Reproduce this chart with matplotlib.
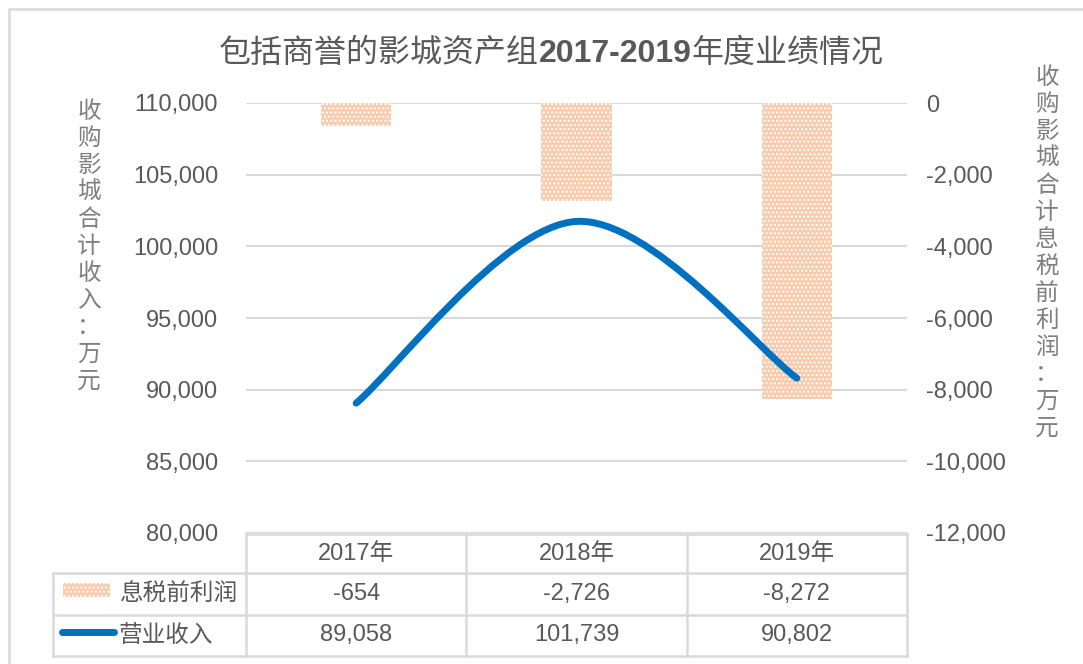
import numpy as np
import matplotlib
matplotlib.use("Agg")
import matplotlib.pyplot as plt
import matplotlib.transforms as mtransforms
from matplotlib.lines import Line2D
from matplotlib.patches import Rectangle
from matplotlib.path import Path
from matplotlib.patches import PathPatch
from matplotlib.offsetbox import TextArea, HPacker, AnnotationBbox
from matplotlib.ticker import FuncFormatter

plt.rcParams['font.family'] = ['Liberation Sans', 'Noto Sans CJK SC', 'DejaVu Sans']
plt.rcParams['hatch.linewidth'] = 1.0

# data
years = ['2017年', '2018年', '2019年']
ebit = [-654, -2726, -8272]           # 息税前利润 (right axis)
revenue = [89058, 101739, 90802]      # 营业收入 (left axis)
ebit_name = '息税前利润'
rev_name = '营业收入'
title_parts = ['包括商誉的影城资产组', '2017-2019', '年度业绩情况']
left_label = '收购影城合计收入：万元'
right_label = '收购影城合计息税前利润：万元'

GRAY = '#595959'
GRID = '#D9D9D9'
BAR = '#F8CBAD'
BLUE = '#0070C0'
W, H = 1083, 664

fig = plt.figure(figsize=(W / 100, H / 100), dpi=100)
fig.patch.set_facecolor('white')

def fx(px):
    return px / W

def fy(py):
    return 1 - py / H

ax = fig.add_axes([fx(246), fy(533), fx(907) - fx(246), fy(103) - fy(533)])
ax2 = ax.twinx()
ax.set_zorder(2)
ax2.set_zorder(1)
ax.patch.set_visible(False)

x = np.arange(len(years))

# bars on the right axis, hanging from 0
ax2.bar(x, ebit, width=0.32, color=BAR, edgecolor='white', linewidth=0, hatch='....')
ax2.set_ylim(-12000, 0)
ax2.set_yticks(np.arange(-12000, 1, 2000))
ax2.grid(axis='y', color=GRID, linewidth=1.5)
ax2.set_axisbelow(True)

# smoothed line (Catmull-Rom style bezier through the points, like Excel)
pts = np.column_stack([x, revenue]).astype(float)
verts = [pts[0]]
codes = [Path.MOVETO]
n = len(pts)
for i in range(n - 1):
    p_prev = pts[max(i - 1, 0)]
    p0, p1 = pts[i], pts[i + 1]
    p_next = pts[min(i + 2, n - 1)]
    c1 = p0 + (p1 - p_prev) / 6
    c2 = p1 - (p_next - p0) / 6
    verts += [c1, c2, p1]
    codes += [Path.CURVE4] * 3
ax.add_patch(PathPatch(Path(verts, codes), facecolor='none', edgecolor=BLUE,
                       linewidth=5, capstyle='round', zorder=3))
ax.set_ylim(80000, 110000)
ax.set_yticks(np.arange(80000, 110001, 5000))
ax.set_xlim(-0.5, len(years) - 0.5)
ax.set_xticks([])

for a in (ax, ax2):
    for s in a.spines.values():
        s.set_visible(False)
    a.tick_params(length=0, labelsize=17, labelcolor=GRAY)

fmt = FuncFormatter(lambda v, p: f"{int(v):,}")
ax.yaxis.set_major_formatter(fmt)
ax2.yaxis.set_major_formatter(fmt)
ax.tick_params(axis='y', pad=20)
ax2.tick_params(axis='y', pad=14)
for t in ax2.get_yticklabels():
    t.set_horizontalalignment('left')

# data table under the plot
tr = mtransforms.blended_transform_factory(ax.transAxes, fig.transFigure)
xl = (53 - 246) / (907 - 246)
rows_y = [fy(534), fy(573), fy(615), fy(656)]
col_x = [0, 1 / 3, 2 / 3, 1]
lkw = dict(color=GRID, linewidth=1.8, transform=tr, solid_capstyle='projecting')
fig.add_artist(Line2D([0, 1], [rows_y[0]] * 2, **lkw))
for yy in rows_y[1:]:
    fig.add_artist(Line2D([xl, 1], [yy] * 2, **lkw))
fig.add_artist(Line2D([xl, xl], [rows_y[1], rows_y[3]], **lkw))
for xx in col_x:
    fig.add_artist(Line2D([xx, xx], [rows_y[0], rows_y[3]], **lkw))

tkw = dict(fontsize=17, color=GRAY, ha='center', va='center', transform=tr)
for i, yr in enumerate(years):
    cx = (i + 0.5) / len(years)
    fig.text(cx, (rows_y[0] + rows_y[1]) / 2, yr, **tkw)
    fig.text(cx, (rows_y[1] + rows_y[2]) / 2, f"{ebit[i]:,}", **tkw)
    fig.text(cx, (rows_y[2] + rows_y[3]) / 2, f"{revenue[i]:,}", **tkw)

# legend keys inside the table
fig.add_artist(Rectangle((fx(63), fy(597)), fx(110) - fx(63), fy(583) - fy(597),
                         facecolor=BAR, edgecolor='white', linewidth=0, hatch='....',
                         transform=fig.transFigure))
fig.add_artist(Line2D([fx(62), fx(114)], [fy(632)] * 2, color=BLUE, linewidth=5,
                      solid_capstyle='round', transform=fig.transFigure))
fig.text(fx(120), (rows_y[1] + rows_y[2]) / 2, ebit_name, fontsize=17, color=GRAY,
         ha='left', va='center')
fig.text(fx(118), (rows_y[2] + rows_y[3]) / 2, rev_name, fontsize=17, color=GRAY,
         ha='left', va='center')

# vertical axis titles, one character per line
for i, ch in enumerate(left_label):
    fig.text(fx(89), fy(112 + 27 * i), ch, fontsize=17, color='#7F7F7F',
             ha='center', va='center')
for i, ch in enumerate(right_label):
    fig.text(fx(1047), fy(78 + 27 * i), ch, fontsize=17, color='#7F7F7F',
             ha='center', va='center')

# title, with the years in bold
parts = [TextArea(title_parts[0], textprops=dict(fontsize=23, color=GRAY)),
         TextArea(title_parts[1], textprops=dict(fontsize=23, color=GRAY, fontweight='bold')),
         TextArea(title_parts[2], textprops=dict(fontsize=23, color=GRAY))]
box = HPacker(children=parts, align='baseline', pad=0, sep=0)
fig.add_artist(AnnotationBbox(box, (fx(551), fy(54)), xycoords='figure fraction',
                              frameon=False, box_alignment=(0.5, 0.5)))

# outer chart border
fig.add_artist(Rectangle((fx(9), -0.05), 1.0, fy(9) + 0.05, facecolor='none',
                         edgecolor=GRID, linewidth=1.8, transform=fig.transFigure))

fig.savefig('out.png', dpi=100, facecolor='white')
